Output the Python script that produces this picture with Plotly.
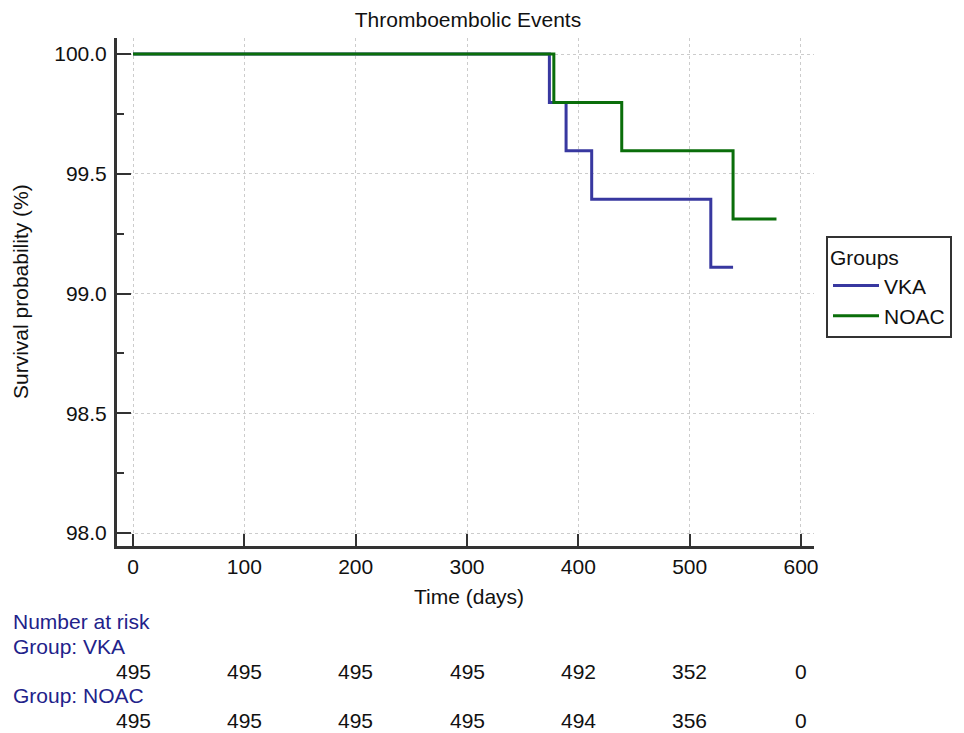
import plotly.graph_objects as go

# ---- data ----
vka_time = [0, 374, 389, 412, 519, 539]
vka_surv = [100.0, 99.798, 99.596, 99.394, 99.110, 99.110]
noac_time = [0, 378, 439, 539, 578]
noac_surv = [100.0, 99.798, 99.596, 99.311, 99.311]

risk_times = [0, 100, 200, 300, 400, 500, 600]
risk_vka = [495, 495, 495, 495, 492, 352, 0]
risk_noac = [495, 495, 495, 495, 494, 356, 0]

x_ticks = [0, 100, 200, 300, 400, 500, 600]
y_ticks = [98.0, 98.5, 99.0, 99.5, 100.0]

FONT = "Liberation Sans, Arial, sans-serif"
NAVY = "#22228a"
FS = 21

OFF = 8  # page body margin
W, H = 964 - OFF, 733 - OFF
PL, PR, PT, PB = 117, 814, 38, 546  # plot area in reference pixels
ML, MR, MT, MB = PL - OFF, W - (PR - OFF), PT - OFF, H - (PB - OFF)
PW, PH = W - ML - MR, H - MT - MB


def px_x(p):
    return (p - OFF - ML) / PW


def px_y(p):
    return (H - MB - (p - OFF)) / PH


fig = go.Figure()
fig.add_trace(go.Scatter(x=vka_time, y=vka_surv, mode="lines", name="VKA",
                         line=dict(color="#3838a0", width=3, shape="hv")))
fig.add_trace(go.Scatter(x=noac_time, y=noac_surv, mode="lines", name="NOAC",
                         line=dict(color="#0a6e0a", width=3, shape="hv")))


def txt(text, x, y, color="#111", xanchor="center", xref="paper", angle=0):
    return dict(text=text, xref=xref, yref="paper", x=x, y=y, showarrow=False,
                xanchor=xanchor, yanchor="middle", textangle=angle,
                font=dict(size=FS, color=color, family=FONT))


ann = [
    txt("Time (days)", px_x(469), px_y(596)),
    txt("Survival probability (%)", px_x(20), px_y(292), angle=-90),
    txt("Number at risk", px_x(11), px_y(621), color=NAVY, xanchor="left"),
    txt("Group: VKA", px_x(11), px_y(646), color=NAVY, xanchor="left"),
    txt("Group: NOAC", px_x(11), px_y(695), color=NAVY, xanchor="left"),
]
for t, v in zip(risk_times, risk_vka):
    ann.append(txt(str(v), t, px_y(671), xref="x"))
for t, v in zip(risk_times, risk_noac):
    ann.append(txt(str(v), t, px_y(720), xref="x"))

fig.update_layout(
    width=W, height=H,
    margin=dict(l=ML, r=MR, t=MT, b=MB),
    paper_bgcolor="white", plot_bgcolor="white",
    font=dict(family=FONT, size=FS, color="#111"),
    title=dict(text="Thromboembolic Events", x=px_x(468), xref="paper", xanchor="center",
               y=1 - (20 - OFF) / H, yref="container", yanchor="middle",
               font=dict(size=FS, color="#111", family=FONT)),
    xaxis=dict(range=[-14.4, 611.7], tickvals=x_ticks, ticktext=[str(v) for v in x_ticks],
               ticks="inside", ticklen=12, tickwidth=2, tickcolor="#333",
               showline=True, linewidth=3, linecolor="#333", mirror=False,
               showgrid=True, gridcolor="#cccccc", gridwidth=1, griddash="dot",
               zeroline=False, tickfont=dict(size=FS), ticklabelstandoff=0),
    yaxis=dict(range=[97.946, 100.067], tickvals=y_ticks, ticktext=[f"{v:.1f}" for v in y_ticks],
               ticks="inside", ticklen=14, tickwidth=2, tickcolor="#333",
               minor=dict(tickvals=[98.25, 98.75, 99.25, 99.75], ticks="inside", ticklen=7,
                          tickwidth=2, tickcolor="#333", showgrid=False),
               showline=True, linewidth=3, linecolor="#333", mirror=False,
               showgrid=True, gridcolor="#cccccc", gridwidth=1, griddash="dot",
               zeroline=False, tickfont=dict(size=FS), ticklabelstandoff=3),
    legend=dict(x=px_x(826), y=px_y(236), xanchor="left", yanchor="top",
                bordercolor="#333", borderwidth=2, bgcolor="white",
                title=dict(text="Groups", font=dict(size=FS)),
                font=dict(size=FS), tracegroupgap=0, itemwidth=46, entrywidth=160),
    annotations=ann,
    showlegend=True,
)

fig.write_html("out.html")
